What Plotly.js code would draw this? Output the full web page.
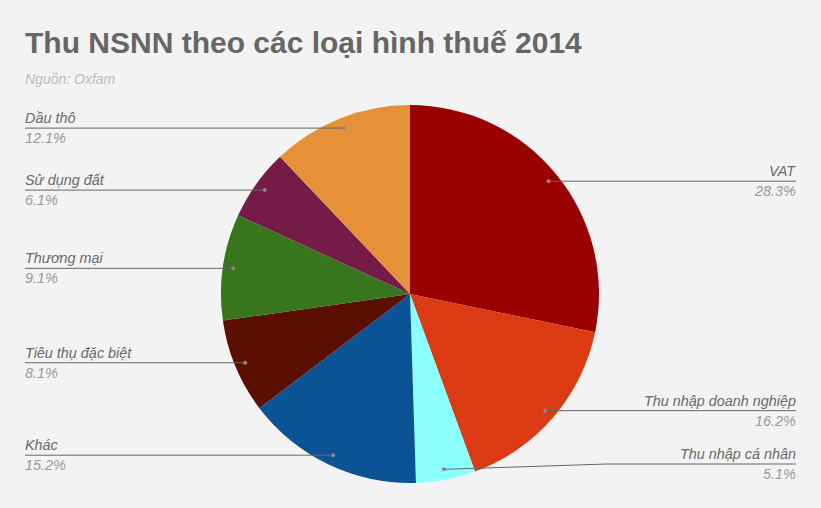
<!DOCTYPE html>
<html>
<head>
<meta charset="utf-8">
<script src="https://cdn.plot.ly/plotly-3.0.1.min.js"></script>
<style>
  html, body { margin: 0; padding: 0; background: #f3f3f3; }
  #chart { width: 821px; height: 508px; }
</style>
</head>
<body>
<div id="chart"></div>
<script>
/* Thu NSNN theo các loại hình thuế 2014 — Oxfam */
const categories = ['VAT', 'Thu nhập doanh nghiệp', 'Thu nhập cá nhân', 'Khác',
                    'Tiêu thụ đặc biệt', 'Thương mại', 'Sử dụng đất', 'Dầu thô'];
const shares = [28.3, 16.2, 5.1, 15.2, 8.1, 9.1, 6.1, 12.1];
const sliceColors = ['#990000', '#dc3a12', '#8cffff', '#0b5394',
                     '#5b0f00', '#38761d', '#741b47', '#e69138'];

// page geometry (px)
const W = 821, H = 508;
const CX = 410, CY = 294, R = 189;
const DOT_K = 0.945;          // leader dot sits just inside the rim
const LEFT_X = 25, RIGHT_X = 796;
const MAX_LABEL_Y = 464;      // keep bottom labels inside the page

const px = x => x / W;
const py = y => 1 - y / H;

const total = shares.reduce((a, b) => a + b, 0);
const shapes = [], annotations = [];
let acc = 0;
shares.forEach((v, i) => {
    const mid = (acc + v / 2) / total * 2 * Math.PI;
    acc += v;
    const dx = CX + DOT_K * R * Math.sin(mid);
    const dy = CY - DOT_K * R * Math.cos(mid);
    const right = dx > CX;
    const ly = Math.min(dy, MAX_LABEL_Y);
    const endX = right ? RIGHT_X : LEFT_X;
    const lineStyle = { color: '#666666', width: 1 };

    if (Math.abs(ly - dy) > 0.5) {
        const elbowX = right ? CX + R + 8 : CX - R - 8;
        shapes.push({ type: 'line', xref: 'paper', yref: 'paper',
            x0: px(dx), y0: py(dy), x1: px(elbowX), y1: py(ly), line: lineStyle });
        shapes.push({ type: 'line', xref: 'paper', yref: 'paper',
            x0: px(elbowX), y0: py(ly), x1: px(endX), y1: py(ly), line: lineStyle });
    } else {
        shapes.push({ type: 'line', xref: 'paper', yref: 'paper',
            x0: px(dx), y0: py(dy), x1: px(endX), y1: py(ly), line: lineStyle });
    }
    shapes.push({ type: 'circle', xref: 'paper', yref: 'paper',
        x0: px(dx - 2), x1: px(dx + 2), y0: py(dy + 2), y1: py(dy - 2),
        fillcolor: '#888888', line: { width: 0 } });

    const base = { xref: 'paper', yref: 'paper', x: px(endX), y: py(ly),
        xanchor: right ? 'right' : 'left', xshift: right ? 2 : -2,
        showarrow: false, borderpad: 1 };
    annotations.push({ ...base, text: categories[i], yanchor: 'bottom',
        font: { family: 'Liberation Sans, Arial, sans-serif', size: 14.4, style: 'italic', color: '#6a6a6a' } });
    annotations.push({ ...base, text: v.toFixed(1) + '%', yanchor: 'top',
        font: { family: 'Liberation Sans, Arial, sans-serif', size: 14.4, style: 'italic', color: '#999999' } });
});

annotations.push({ xref: 'paper', yref: 'paper', x: px(LEFT_X), y: py(79),
    xanchor: 'left', yanchor: 'middle', xshift: -2, showarrow: false, text: 'Nguồn: Oxfam',
    font: { family: 'Liberation Sans, Arial, sans-serif', size: 14, style: 'italic', color: '#bbbbbb' } });

const trace = {
    type: 'pie',
    labels: categories,
    values: shares,
    marker: { colors: sliceColors, line: { width: 0 } },
    sort: false,
    direction: 'clockwise',
    rotation: 0,
    textinfo: 'none',
    hoverinfo: 'label+percent',
    domain: { x: [px(CX - R), px(CX + R)], y: [py(CY + R), py(CY - R)] },
};

const layout = {
    width: W, height: H,
    paper_bgcolor: '#f3f3f3',
    margin: { l: 0, r: 0, t: 0, b: 0 },
    showlegend: false,
    title: {
        text: 'Thu NSNN theo các loại hình thuế 2014',
        x: px(LEFT_X), xanchor: 'left', xref: 'paper',
        y: py(42), yanchor: 'middle', yref: 'container',
        font: { family: 'Liberation Sans, Arial, sans-serif', size: 30, weight: 'bold', color: '#666666' },
    },
    shapes: shapes,
    annotations: annotations,
};

Plotly.newPlot('chart', [trace], layout, { displayModeBar: false, staticPlot: true });
</script>
</body>
</html>
